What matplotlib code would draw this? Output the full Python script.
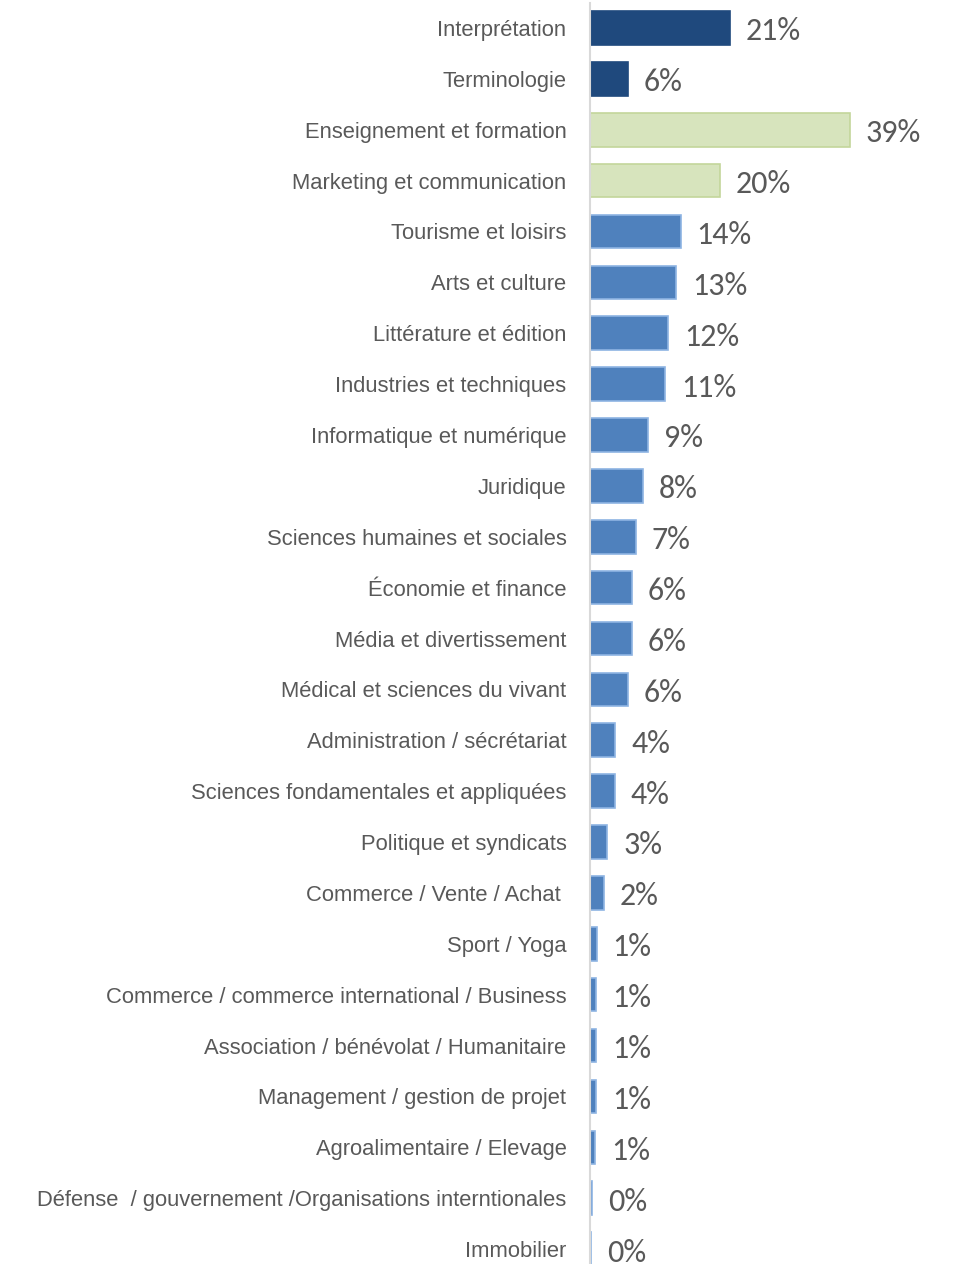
import matplotlib
matplotlib.use("Agg")
import matplotlib.pyplot as plt
from matplotlib import font_manager

categories = [
    "Interprétation",
    "Terminologie",
    "Enseignement et formation",
    "Marketing et communication",
    "Tourisme et loisirs",
    "Arts et culture",
    "Littérature et édition",
    "Industries et techniques",
    "Informatique et numérique",
    "Juridique",
    "Sciences humaines et sociales",
    "Économie et finance",
    "Média et divertissement",
    "Médical et sciences du vivant",
    "Administration / sécrétariat",
    "Sciences fondamentales et appliquées",
    "Politique et syndicats",
    "Commerce / Vente / Achat ",
    "Sport / Yoga",
    "Commerce / commerce international / Business",
    "Association / bénévolat / Humanitaire",
    "Management / gestion de projet",
    "Agroalimentaire / Elevage",
    "Défense  / gouvernement /Organisations interntionales",
    "Immobilier",
]
values = [21.0, 5.7, 39.0, 19.5, 13.6, 12.9, 11.7, 11.3, 8.7, 7.9, 6.9, 6.3,
          6.3, 5.7, 3.8, 3.7, 2.6, 2.1, 1.0, 0.9, 0.9, 0.9, 0.75, 0.3, 0.1]
groups = ["core", "core", "highlight", "highlight"] + ["other"] * 21

fills = {"core": "#1f497d", "highlight": "#d7e4bd", "other": "#4f81bd"}
edges = {"core": "#1f497d", "highlight": "#c3d69b", "other": "#8eb4e3"}

names = {f.name for f in font_manager.fontManager.ttflist}
if "Liberation Sans Narrow" in names:
    label_font, label_size = "Liberation Sans Narrow", 17
else:
    label_font, label_size = "Liberation Sans", 15.8
value_font = "Carlito" if "Carlito" in names else "Lato"
text_color = "#595959"

fig = plt.figure(figsize=(9.56, 12.64), dpi=100)
ax = fig.add_axes([590 / 956, -0.0083, 366 / 956, 1.0063])

ypos = list(range(len(categories)))
ax.barh(ypos, values, height=0.66,
        color=[fills[g] for g in groups],
        edgecolor=[edges[g] for g in groups], linewidth=1.2)

ax.set_ylim(len(categories) - 0.5, -0.5)
ax.set_xlim(0, 54.9)

# percentage labels just right of each bar
for y, v in zip(ypos, values):
    ax.annotate(f"{v:.0f}%", xy=(v, y), xytext=(11.5, -2.5), textcoords="offset points",
                ha="left", va="center", fontsize=23, color=text_color,
                family=value_font)

ax.set_yticks(ypos)
ax.set_yticklabels(categories, fontsize=label_size, color=text_color, family=label_font)
ax.tick_params(axis="y", length=0, pad=17)
ax.set_xticks([])

for side in ["top", "right", "bottom"]:
    ax.spines[side].set_visible(False)
ax.spines["left"].set_color("#d9d9d9")
ax.spines["left"].set_linewidth(1.5)

fig.savefig("out.png", dpi=100)
